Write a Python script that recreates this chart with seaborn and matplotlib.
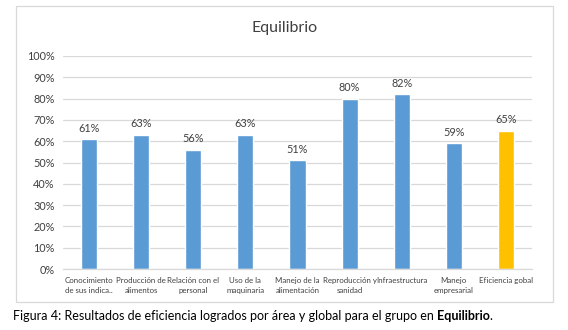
import matplotlib
matplotlib.use("Agg")
import matplotlib.pyplot as plt
import seaborn as sns
import pandas as pd
from matplotlib.patches import Rectangle

categories = ["Conocimiento\nde sus indica..", "Producción de\nalimentos", "Relación con el\npersonal",
              "Uso de la\nmaquinaria", "Manejo de la\nalimentación", "Reproducción y\nsanidad",
              "Infraestructura", "Manejo\nempresarial", "Eficiencia gobal"]
values = [61, 63, 56, 63, 51, 80, 82, 59, 65]
bar_colors = ["#5B9BD5"] * 8 + ["#FFC000"]
yticks = [0, 10, 20, 30, 40, 50, 60, 70, 80, 90, 100]

sns.set_theme(style="white")
plt.rcParams['font.family'] = ['Lato', 'DejaVu Sans']

df = pd.DataFrame({"cat": categories, "val": values})

fig = plt.figure(figsize=(5.68, 3.30), dpi=100)
ax = fig.add_axes([63/568, 1-269/330, (532-63)/568, (269-56)/330])

sns.barplot(data=df, x="cat", y="val", hue="cat", palette=bar_colors, legend=False,
            width=0.31, ax=ax, saturation=1)

ax.set_ylim(0, 100)
ax.set_xlim(-0.5, len(categories) - 0.5)
ax.set_yticks(yticks)
ax.set_yticklabels([f"{t}%" for t in yticks], fontsize=7.8, color="#404040")
ax.set_xticks(range(len(categories)))
ax.set_xticklabels(categories, fontsize=5.7, color="#404040", linespacing=1.5)
ax.tick_params(axis="x", length=0, pad=6)
ax.tick_params(axis="y", length=0, pad=6)
ax.set_xlabel("")
ax.set_ylabel("")
ax.grid(axis="y", color="#D9D9D9", linewidth=0.9)
ax.set_axisbelow(True)
for s in ["top", "right", "left"]:
    ax.spines[s].set_visible(False)
ax.spines["bottom"].set_color("#D9D9D9")
ax.spines["bottom"].set_linewidth(0.9)

for i, v in enumerate(values):
    ax.text(i, v + 2.5, f"{v}%", ha="center", va="bottom", fontsize=7.8, color="#404040")

fig.text(284.5/568, 1-28/330, "Equilibrio", ha="center", va="center", fontsize=11.5, color="#404040")

frame = Rectangle((16/568, 1-302/330), (553-16)/568, (302-6)/330, transform=fig.transFigure,
                  fill=False, edgecolor="#D9D9D9", linewidth=0.9)
fig.add_artist(frame)

cap_y = 1-316/330
t1 = fig.text(13/568, cap_y, "Figura 4: Resultados de eficiencia logrados por área y global para el grupo en ",
              ha="left", va="center", fontsize=9.0, color="black")
fig.canvas.draw()
bb = t1.get_window_extent()
t2 = fig.text(bb.x1/fig.bbox.width, cap_y, "Equilibrio", ha="left", va="center",
              fontsize=9.0, color="black", fontweight="bold")
fig.canvas.draw()
bb2 = t2.get_window_extent()
fig.text((bb2.x1 - 1)/fig.bbox.width, cap_y, ".", ha="left", va="center", fontsize=9.0, color="black")

fig.savefig("out.png", dpi=100)
